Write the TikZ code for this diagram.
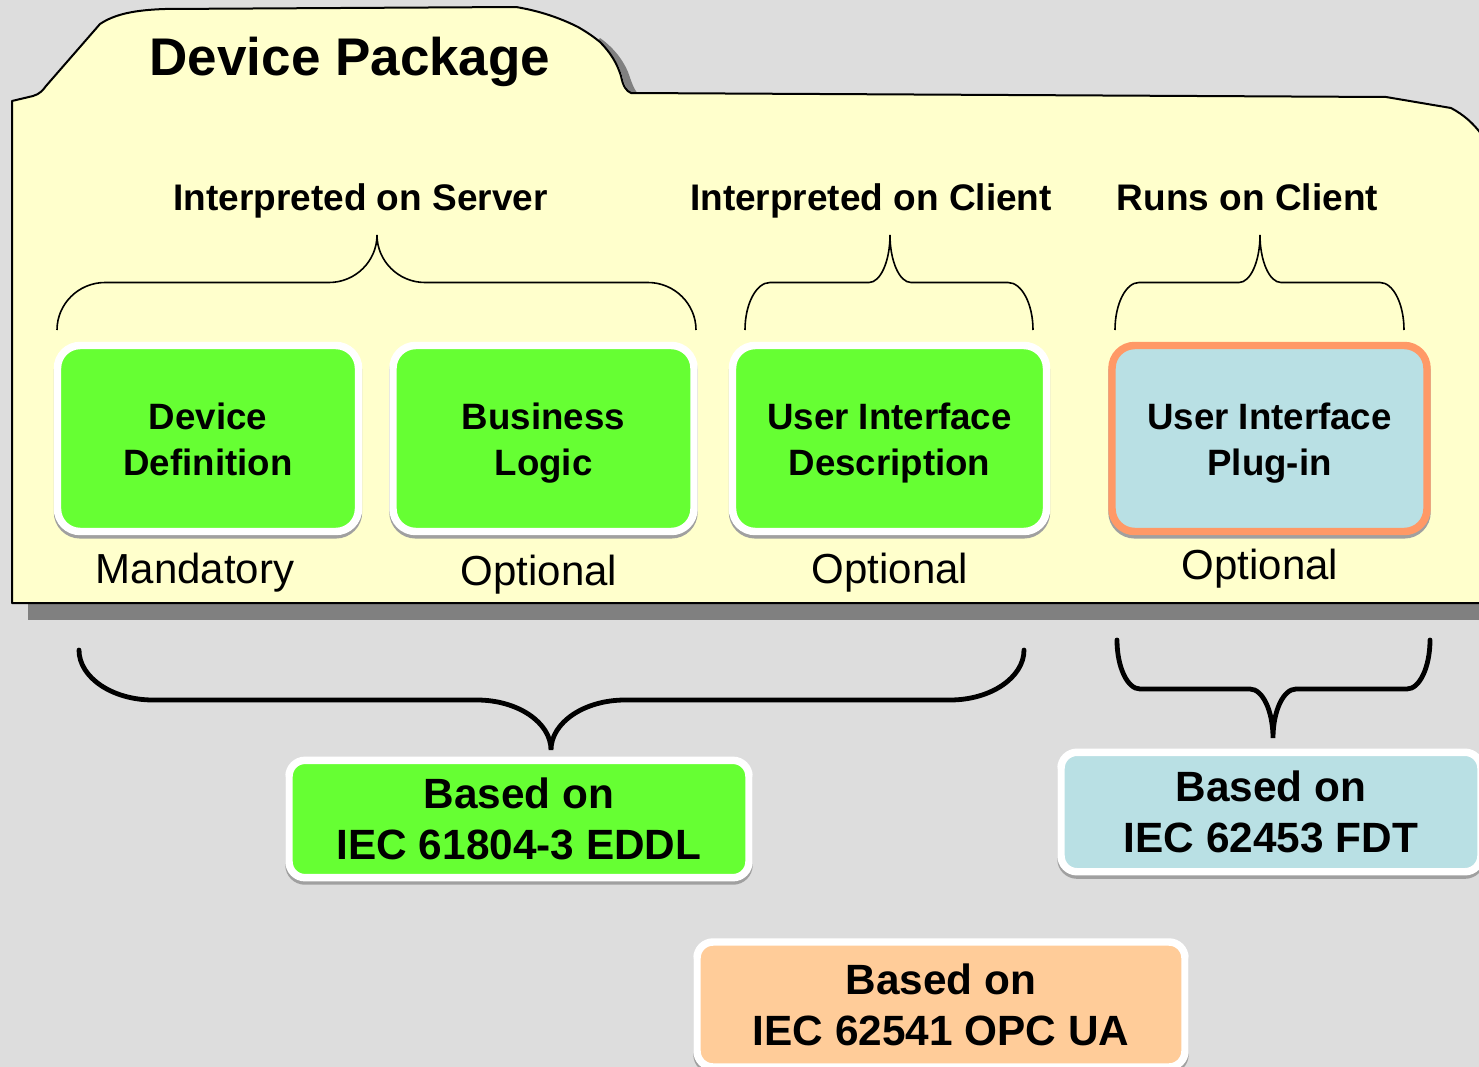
\documentclass[tikz,border=0pt]{standalone}
\usepackage{fontspec}
\setmainfont{Liberation Sans}
\usetikzlibrary{shadows}

\definecolor{pagegray}{RGB}{221,221,221}
\definecolor{foldercream}{RGB}{255,255,204}
\definecolor{foldershadow}{RGB}{128,128,128}
\definecolor{eddlgreen}{RGB}{102,255,51}
\definecolor{fdtblue}{RGB}{185,224,228}
\definecolor{plugorange}{RGB}{255,153,102}
\definecolor{opcpeach}{RGB}{255,204,153}
\definecolor{boxshade}{RGB}{160,160,160}

\begin{document}
\begin{tikzpicture}[x=0.75pt,y=0.75pt,yscale=-1,xscale=1,
  folder/.style={draw=black, line width=1.5pt, fill=foldercream, line join=round},
  thinbrace/.style={draw=black, line width=1.2pt},
  thickbrace/.style={draw=black, line width=3.6pt, line cap=round},
  boxshadow/.style={drop shadow={shadow xshift=0pt, shadow yshift=-2.5pt, fill=boxshade, draw=boxshade, line width=5.6pt, opacity=1}},
  partbox/.style={rectangle, rounded corners=17pt, draw=white, line width=5.6pt, fill=eddlgreen, inner sep=0pt, minimum height=139.5pt, boxshadow},
  plugbox/.style={partbox, draw=plugorange, fill=fdtblue},
  parttext/.style={align=center, inner sep=0pt, font=\fontsize{27.5}{34.5}\selectfont\bfseries, execute at end node={\rule[-6pt]{0pt}{6pt}}},
  basebox/.style={rectangle, rounded corners=12pt, draw=white, line width=5.6pt, align=center, inner sep=0pt, font=\fontsize{31.75}{38.25}\selectfont\bfseries, boxshadow},
  headtext/.style={anchor=base, font=\fontsize{27.75}{33}\selectfont\bfseries},
  titletext/.style={anchor=base, font=\fontsize{39.75}{48}\selectfont\bfseries},
  notetext/.style={anchor=base, font=\fontsize{31.5}{38}\selectfont}]
\useasboundingbox (0,0) rectangle (1479,1067);
\clip (0,0) rectangle (1479,1067);

%Shape: Rectangle [background]
\fill [pagegray] (0,0) rectangle (1479,1067);
%Shape: Rectangle [folder shadow]
\fill [foldershadow] (28,603) rectangle (1479,620);
\fill [foldershadow] (598,40) .. controls (610,52) and (618,62) .. (622,75) .. controls (624,85) and (627,90) .. (632,94) -- (638,94) .. controls (633,88) and (631,80) .. (628,72) .. controls (623,60) and (614,48) .. (600,38) -- cycle ;
%Shape: Folder
\draw [folder] (12,603) -- (12,101) -- (33,96) .. controls (40,94) and (43,90) .. (46,86) -- (100,24) .. controls (115,14) and (135,10) .. (165,9) -- (516,7) .. controls (540,11) and (560,18) .. (578,27) .. controls (590,34) and (595,38) .. (600,42) .. controls (610,52) and (617,63) .. (621,76) .. controls (623,86) and (626,91) .. (631,93) -- (1386,97) -- (1451,108) .. controls (1464,115) and (1473,123) .. (1482,135) -- (1482,603) -- cycle ;

%Curve Lines [server brace]
\draw [thinbrace] (57,330) .. controls (57,303.9) and (78.6,282.5) .. (105,282.5) -- (329,282.5) .. controls (355.4,282.5) and (377,261.1) .. (377,235) .. controls (377,261.1) and (398.6,282.5) .. (425,282.5) -- (648,282.5) .. controls (674.4,282.5) and (696,303.9) .. (696,330) ;
%Curve Lines [client brace]
\draw [thinbrace] (745,330) .. controls (745,303.9) and (756.25,282.5) .. (770,282.5) -- (869,282.5) .. controls (880.55,282.5) and (890,261.1) .. (890,235) .. controls (890,261.1) and (899.45,282.5) .. (911,282.5) -- (1008,282.5) .. controls (1021.75,282.5) and (1033,303.9) .. (1033,330) ;
%Curve Lines [runs brace]
\draw [thinbrace] (1115,330) .. controls (1115,303.9) and (1125.8,282.5) .. (1139,282.5) -- (1239,282.5) .. controls (1250.55,282.5) and (1260,261.1) .. (1260,235) .. controls (1260,261.1) and (1269.45,282.5) .. (1281,282.5) -- (1380,282.5) .. controls (1393.2,282.5) and (1404,303.9) .. (1404,330) ;

%Rounded Rect [parts]
\node (devdef) [partbox, minimum width=225.75pt] at (208,438.5) {};
\node (buslogic) [partbox, minimum width=225.75pt] at (543.5,438.5) {};
\node (uidesc) [partbox, minimum width=235.5pt] at (889.5,438.5) {};
\node (uiplug) [plugbox, minimum width=236.25pt] at (1269.5,438.5) {};

% Text Node
\node (devdeftext) [parttext] at (208,443) {Device\\Definition};
% Text Node
\node (buslogictext) [parttext] at (543.5,443) {Business\\Logic};
% Text Node
\node (uidesctext) [parttext] at (889.5,443) {User Interface\\Description};
% Text Node
\node (uiplugtext) [parttext] at (1269.5,443) {User Interface\\Plug-in};
% Text Node
\node (title) [titletext] at (350,75) {Device Package};
% Text Node
\node (onserver) [headtext] at (360.5,210) {Interpreted on Server};
% Text Node
\node (onclient) [headtext] at (871,210) {Interpreted on Client};
% Text Node
\node (runsclient) [headtext] at (1247.5,210) {Runs on Client};
% Text Node
\node (mandatory) [notetext] at (195,583) {Mandatory};
% Text Node
\node (optlogic) [notetext] at (539,585) {Optional};
% Text Node
\node (optdesc) [notetext] at (890,583) {Optional};
% Text Node
\node (optplug) [notetext] at (1260,579) {Optional};

%Curve Lines [eddl brace]
\draw [thickbrace] (79,650) .. controls (79,677.5) and (112.3,700) .. (153,700) -- (477,700) .. controls (517.7,700) and (551,722.5) .. (551,750) .. controls (551,722.5) and (584.3,700) .. (625,700) -- (950,700) .. controls (990.7,700) and (1024,677.5) .. (1024,650) ;
%Curve Lines [fdt brace]
\draw [thickbrace] (1117,640) .. controls (1117,666.95) and (1127.35,689) .. (1140,689) -- (1250,689) .. controls (1262.65,689) and (1273,711.05) .. (1273,738) .. controls (1273,711.05) and (1283.35,689) .. (1296,689) -- (1407,689) .. controls (1419.65,689) and (1430,666.95) .. (1430,640) ;

%Rounded Rect [standards]
\node (eddl) [basebox, fill=eddlgreen, minimum width=345pt, minimum height=88pt] at (519,819) {Based on\\IEC 61804-3 EDDL};
\node (fdt) [basebox, fill=fdtblue, minimum width=315pt, minimum height=89.6pt] at (1271,812) {Based on\\IEC 62453 FDT};
\node (opcua) [basebox, fill=opcpeach, minimum width=366pt, minimum height=93.75pt] at (941,1004.5) {Based on\\IEC 62541 OPC UA};

\end{tikzpicture}
\end{document}
